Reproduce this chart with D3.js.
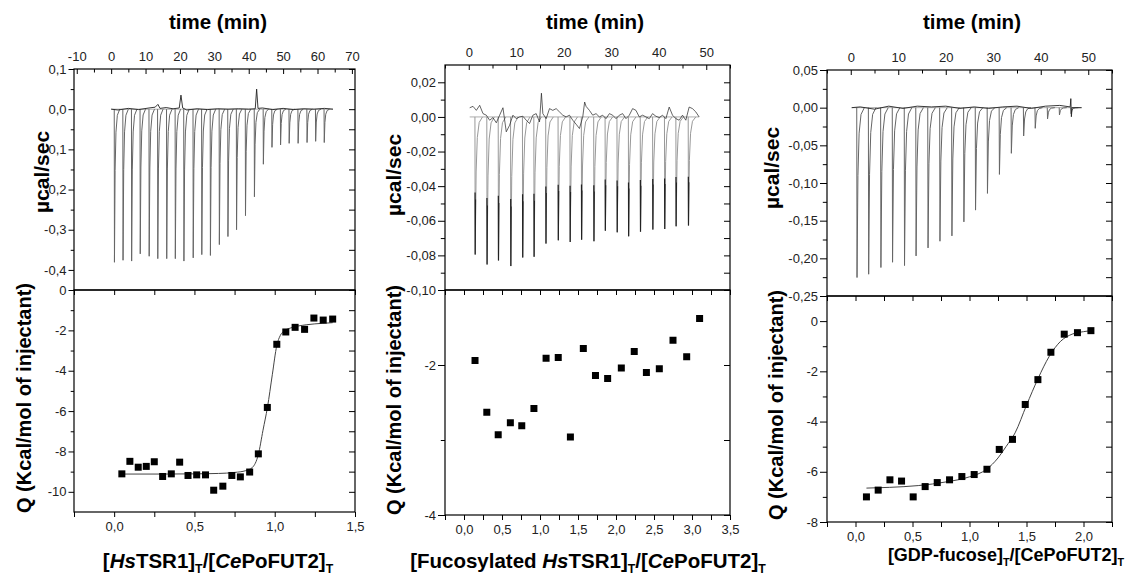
<!DOCTYPE html>
<html>
<head>
<meta charset="utf-8">
<script src="https://cdn.jsdelivr.net/npm/d3@7"></script>
<style>
  body { margin: 0; background: #fff; }
  svg text { font-family: "Liberation Sans", Arial, sans-serif; }
</style>
</head>
<body>
<div id="chart"></div>
<script>
/**
 * DATA
 * */
// panel A : HsTSR1 -> CePoFUT2
const injTimeA = [0.9, 3.4, 5.9, 8.4, 11.0, 13.5, 16.1, 18.6, 21.1, 23.8, 26.3, 28.8, 31.4, 33.9, 36.4, 39.0, 41.6, 44.2, 46.7, 49.2, 51.7, 54.3, 56.9, 59.4, 61.9];
const injPeakA = [-0.381, -0.376, -0.378, -0.360, -0.366, -0.372, -0.372, -0.372, -0.378, -0.370, -0.362, -0.364, -0.337, -0.317, -0.300, -0.265, -0.218, -0.137, -0.095, -0.089, -0.085, -0.085, -0.083, -0.080, -0.083];
const baseA = [[0, 0], [2, -0.002], [5, 0.002], [8, -0.001], [11, 0.003], [12.8, 0.005], [13.6, 0.012], [14.2, 0.002], [16, 0.004], [18, 0.001], [19.8, 0.003], [20.3, 0.035], [20.8, 0.003], [22, -0.002], [25, 0.001], [28, -0.001], [31, 0.001], [34, 0], [37, 0.001], [40, 0], [41.9, 0.001], [42.3, 0.05], [42.7, 0.002], [44, 0.003], [47, -0.001], [50, 0.002], [53, -0.001], [56, 0.001], [59, 0], [62, 0.002], [64.5, 0]];
const ratioA = [0.048, 0.098, 0.15, 0.20, 0.25, 0.302, 0.356, 0.408, 0.46, 0.514, 0.569, 0.62, 0.677, 0.733, 0.786, 0.844, 0.898, 0.954, 1.013, 1.069, 1.127, 1.186, 1.244, 1.302, 1.361];
const heatA = [-9.11, -8.49, -8.78, -8.74, -8.51, -9.24, -9.11, -8.53, -9.19, -9.16, -9.16, -9.92, -9.72, -9.19, -9.26, -9.02, -8.12, -5.82, -2.69, -2.08, -1.85, -1.95, -1.39, -1.49, -1.44];
const fitRatioA = [0.048, 0.3, 0.5, 0.65, 0.75, 0.82, 0.86, 0.898, 0.927, 0.955, 0.985, 1.013, 1.035, 1.06, 1.1, 1.2, 1.3, 1.361];
const fitHeatA = [-9.12, -9.12, -9.11, -9.09, -9.04, -8.95, -8.8, -8.15, -6.95, -5.8, -4.2, -2.75, -2.25, -2.02, -1.88, -1.72, -1.65, -1.62];
const timeTicksA = [-10, 0, 10, 20, 30, 40, 50, 60, 70];
const timeMinorA = [-5, 5, 15, 25, 35, 45, 55, 65];
const powerTicksA = [0.1, 0, -0.1, -0.2, -0.3, -0.4];
const powerMinorA = [0.05, -0.05, -0.15, -0.25, -0.35];
const ratioTicksA = [0, 0.5, 1, 1.5];
const ratioMinorA = [-0.25, 0.25, 0.75, 1.25];
const heatTicksA = [0, -2, -4, -6, -8, -10];
const heatMinorA = [-1, -3, -5, -7, -9];

// panel B : fucosylated HsTSR1 -> CePoFUT2
const injTimeB = [1.3, 3.8, 6.2, 8.8, 11.3, 13.7, 16.2, 18.8, 21.3, 23.7, 26.3, 28.7, 31.2, 33.6, 36.1, 38.7, 41.2, 43.6, 46.2];
const injPeakB = [-0.0795, -0.0852, -0.0829, -0.0862, -0.0812, -0.0808, -0.0732, -0.0713, -0.0722, -0.0709, -0.0718, -0.0657, -0.0667, -0.0690, -0.0663, -0.0651, -0.0647, -0.0632, -0.0628];
const baseB = [[0.2, 0.0053], [0.9, 0.0061], [1.6, 0.0038], [2.3, 0.0067], [3.0, 0.0019], [3.7, 0.0010], [4.4, -0.0019], [5.1, -0.0004], [5.8, -0.0034], [6.5, 0.0010], [7.2, 0.0053], [7.9, -0.0086], [8.6, -0.0048], [9.3, 0.0010], [10.0, -0.0010], [10.7, 0], [11.4, 0.0004], [12.1, -0.0019], [12.8, -0.0038], [13.5, 0.0010], [14.2, 0.0019], [14.9, -0.0029], [15.3, 0.0137], [15.6, 0.0019], [16.3, -0.0010], [17.0, 0.0048], [17.7, 0.0038], [18.4, 0.0048], [19.1, 0.0029], [19.8, 0.0010], [20.5, 0], [21.2, 0.0010], [21.9, -0.0019], [22.6, -0.0042], [23.3, -0.0067], [24.0, 0], [24.4, 0.0086], [24.7, 0.0061], [25.4, 0.0038], [26.1, 0.0010], [26.8, 0.0019], [27.5, 0], [28.2, 0.0010], [28.9, -0.0010], [29.6, 0.0019], [30.3, 0.0010], [31.0, -0.0010], [31.7, 0.0010], [32.4, 0.0019], [33.1, -0.0010], [33.8, 0.0010], [34.5, 0.0048], [35.2, 0.0038], [35.9, 0], [36.6, 0.0010], [37.3, 0], [38.0, -0.0010], [38.7, 0.0019], [39.4, 0.0004], [40.1, -0.0004], [40.8, 0.0010], [41.5, -0.0010], [42.2, 0.0057], [42.9, 0.0010], [43.6, -0.0010], [44.3, -0.0019], [45.0, 0.0010], [45.7, -0.0019], [46.4, 0.0057], [47.1, 0.0048], [47.8, 0.0029], [48.5, 0]];
const ratioB = [0.145, 0.30, 0.45, 0.61, 0.76, 0.92, 1.08, 1.24, 1.40, 1.57, 1.73, 1.89, 2.07, 2.24, 2.40, 2.57, 2.75, 2.93, 3.10];
const heatB = [-1.94, -2.63, -2.93, -2.77, -2.81, -2.58, -1.91, -1.90, -2.96, -1.78, -2.14, -2.18, -2.04, -1.82, -2.10, -2.05, -1.67, -1.89, -1.38];
const timeTicksB = [0, 10, 20, 30, 40, 50];
const timeMinorB = [-5, 5, 15, 25, 35, 45, 55];
const powerTicksB = [0.02, 0, -0.02, -0.04, -0.06, -0.08, -0.10];
const powerMinorB = [0.01, -0.01, -0.03, -0.05, -0.07, -0.09];
const ratioTicksB = [0, 0.5, 1, 1.5, 2, 2.5, 3, 3.5];
const ratioMinorB = [-0.25, 0.25, 0.75, 1.25, 1.75, 2.25, 2.75, 3.25];
const heatTicksB = [-2, -4];
const heatMinorB = [-1, -3];

// panel C : GDP-fucose -> CePoFUT2
const injTimeC = [1.26, 3.71, 6.29, 8.74, 11.26, 13.69, 16.21, 18.72, 21.24, 23.76, 26.21, 28.72, 31.24, 33.75, 36.34, 38.78, 41.37, 43.88, 46.33];
const injPeakC = [-0.2255, -0.2211, -0.2122, -0.2052, -0.2096, -0.1968, -0.1862, -0.1773, -0.1702, -0.1516, -0.1360, -0.1138, -0.0886, -0.0606, -0.0376, -0.0274, -0.0150, -0.0097, -0.0080];
const baseC = [[0.2, 0], [2, 0.001], [5, -0.002], [8, 0.002], [11, -0.001], [14, 0.002], [17, 0.001], [20, 0.002], [23, -0.001], [26, 0.001], [29, -0.001], [32, 0.001], [35, 0.002], [38, -0.001], [41, 0.002], [44, 0.003], [46.2, 0.001], [46.33, 0.012], [46.45, -0.012], [46.6, 0], [48.6, 0]];
const ratioC = [0.096, 0.199, 0.302, 0.404, 0.506, 0.611, 0.717, 0.825, 0.933, 1.041, 1.153, 1.261, 1.377, 1.489, 1.60, 1.714, 1.831, 1.947, 2.065];
const heatC = [-7.0, -6.73, -6.32, -6.37, -7.0, -6.59, -6.43, -6.32, -6.19, -6.11, -5.90, -5.11, -4.71, -3.32, -2.33, -1.24, -0.52, -0.46, -0.38];
const fitRatioC = [0.096, 0.3, 0.55, 0.8, 1.0, 1.15, 1.25, 1.32, 1.4, 1.5, 1.6, 1.7, 1.8, 1.9, 2.0, 2.065];
const fitHeatC = [-6.65, -6.62, -6.55, -6.4, -6.2, -5.9, -5.45, -5.0, -4.45, -3.35, -2.3, -1.4, -0.8, -0.52, -0.42, -0.38];
const timeTicksC = [0, 10, 20, 30, 40, 50];
const timeMinorC = [-5, 5, 15, 25, 35, 45, 55];
const powerTicksC = [0.05, 0, -0.05, -0.10, -0.15, -0.20, -0.25];
const powerMinorC = [0.025, -0.025, -0.075, -0.125, -0.175, -0.225];
const ratioTicksC = [0, 0.5, 1, 1.5, 2];
const ratioMinorC = [-0.25, 0.25, 0.75, 1.25, 1.75, 2.25];
const heatTicksC = [0, -2, -4, -6, -8];
const heatMinorC = [1, -1, -3, -5, -7];

/**
 * LAYOUT
 * */
const width = 1127, height = 579;
const loc = d3.formatLocale({ decimal: ",", thousands: ".", grouping: [3], currency: ["", ""], minus: "-" });

// shape of one injection peak, relative to injection time (min) / peak depth
const spikeShape = [[0, 0], [0.06, 1], [0.25, 0.4], [0.5, 0.15], [0.9, 0.04], [1.6, 0]];

const panels = [
  {
    x0: 74, x1: 355, y0: 69, ym: 290, y1: 512,
    timeDom: [-10.8, 70.9], powerDom: [-0.45, 0.1], ratioDom: [-0.25, 1.5], heatDom: [-11, 0],
    inj: injTimeA, peak: injPeakA, base: baseA, ratio: ratioA, heat: heatA, fitR: fitRatioA, fitH: fitHeatA,
    tT: timeTicksA, tM: timeMinorA, pT: powerTicksA, pM: powerMinorA, rT: ratioTicksA, rM: ratioMinorA, hT: heatTicksA, hM: heatMinorA,
    pFmt: ".1f", tick: 5.5,
    timeX: 218, powerLab: [42, 172], heatLab: [24, 398], xLabY: 568, xLabSize: 20.5,
    xLab: [["[", "n"], ["Hs", "i"], ["TSR1]", "n"], ["T", "s"], ["/[", "n"], ["Ce", "i"], ["PoFUT2]", "n"], ["T", "s"]], xLabX: 218,
    spikeColor: "#666", baseW: 0.9
  },
  {
    x0: 445, x1: 730, y0: 65, ym: 290, y1: 515,
    timeDom: [-5, 55], powerDom: [-0.10, 0.03], ratioDom: [-0.25, 3.5], heatDom: [-4, -1],
    inj: injTimeB, peak: injPeakB, base: baseB, ratio: ratioB, heat: heatB, fitR: null, fitH: null,
    tT: timeTicksB, tM: timeMinorB, pT: powerTicksB, pM: powerMinorB, rT: ratioTicksB, rM: ratioMinorB, hT: heatTicksB, hM: heatMinorB,
    pFmt: ".2f", tick: 7,
    timeX: 595, powerLab: [394, 175], heatLab: [394, 400], xLabY: 568, xLabSize: 20.5,
    xLab: [["[Fucosylated ", "n"], ["Hs", "i"], ["TSR1]", "n"], ["T", "s"], ["/[", "n"], ["Ce", "i"], ["PoFUT2]", "n"], ["T", "s"]], xLabX: 588,
    spikeColor: "#999", darkTip: true, baseW: 0.7
  },
  {
    x0: 827, x1: 1112, y0: 70, ym: 296, y1: 522,
    timeDom: [-5, 55], powerDom: [-0.25, 0.05], ratioDom: [-0.25, 2.25], heatDom: [-8, 1],
    inj: injTimeC, peak: injPeakC, base: baseC, ratio: ratioC, heat: heatC, fitR: fitRatioC, fitH: fitHeatC,
    tT: timeTicksC, tM: timeMinorC, pT: powerTicksC, pM: powerMinorC, rT: ratioTicksC, rM: ratioMinorC, hT: heatTicksC, hM: heatMinorC,
    pFmt: ".2f", tick: 7,
    timeX: 972, powerLab: [772, 168], heatLab: [776, 405], xLabY: 561, xLabSize: 18,
    xLab: [["[GDP-fucose]", "n"], ["T", "s"], ["/[", "n"], ["Ce", "n"], ["PoFUT2]", "n"], ["T", "s"]], xLabX: 1006,
    spikeColor: "#666", baseW: 0.9
  }
];

const svg = d3.select("#chart").append("svg")
  .attr("width", width)
  .attr("height", height);

panels.forEach(drawPanel);

function styleAxis(g) {
  g.select(".domain").remove();
  g.attr("font-family", "Liberation Sans, Arial, sans-serif").attr("font-size", 13).attr("color", "#000");
  g.selectAll("text").attr("fill", "#222");
}

function drawPanel(p) {
  const g = svg.append("g");

  const xt = d3.scaleLinear().domain(p.timeDom).range([p.x0, p.x1]);
  const yp = d3.scaleLinear().domain(p.powerDom).range([p.ym, p.y0]);
  const xr = d3.scaleLinear().domain(p.ratioDom).range([p.x0, p.x1]);
  const yh = d3.scaleLinear().domain(p.heatDom).range([p.y1, p.ym]);

  // ---- thermogram
  const tline = d3.line().x(d => xt(d[0])).y(d => yp(d[1]));
  const first = p.base[0][0], last = p.base[p.base.length - 1][0];
  g.append("line")
    .attr("x1", xt(first)).attr("x2", xt(last))
    .attr("y1", yp(0)).attr("y2", yp(0))
    .attr("stroke", "#999").attr("stroke-width", 0.8);

  p.inj.forEach((t, i) => {
    const pk = p.peak[i];
    g.append("path")
      .datum(spikeShape.map(s => [t + s[0], s[1] * pk]))
      .attr("d", tline)
      .attr("fill", "none")
      .attr("stroke", p.spikeColor)
      .attr("stroke-width", 1);
    if (p.darkTip) {
      g.append("path")
        .datum([[t + 0.03, pk * 0.55], [t + 0.06, pk], [t + 0.12, pk * 0.6]])
        .attr("d", tline)
        .attr("fill", "none")
        .attr("stroke", "#222")
        .attr("stroke-width", 1.2);
    }
  });

  g.append("path")
    .datum(p.base)
    .attr("d", tline)
    .attr("fill", "none")
    .attr("stroke", "#222")
    .attr("stroke-width", p.baseW);

  // ---- binding isotherm
  if (p.fitR) {
    g.append("path")
      .datum(p.fitR.map((r, i) => [r, p.fitH[i]]))
      .attr("d", d3.line().x(d => xr(d[0])).y(d => yh(d[1])).curve(d3.curveMonotoneX))
      .attr("fill", "none")
      .attr("stroke", "#444")
      .attr("stroke-width", 1);
  }

  g.selectAll(".pt")
    .data(p.ratio.map((r, i) => [r, p.heat[i]]))
    .join("rect")
    .attr("x", d => xr(d[0]) - 3.5)
    .attr("y", d => yh(d[1]) - 3.5)
    .attr("width", 7)
    .attr("height", 7)
    .attr("fill", "#000");

  // ---- frames
  g.append("rect")
    .attr("x", p.x0).attr("y", p.y0)
    .attr("width", p.x1 - p.x0).attr("height", p.ym - p.y0)
    .attr("fill", "none").attr("stroke", "#000").attr("stroke-width", 1.2);
  g.append("rect")
    .attr("x", p.x0).attr("y", p.ym)
    .attr("width", p.x1 - p.x0).attr("height", p.y1 - p.ym)
    .attr("fill", "none").attr("stroke", "#000").attr("stroke-width", 1.2);

  // ---- axes
  const pf = loc.format(p.pFmt), df = loc.format("d"), rf = loc.format(".1f");

  // time axis on top (ticks pointing in)
  g.append("g").attr("transform", `translate(0,${p.y0})`)
    .call(d3.axisTop(xt).tickValues(p.tT).tickFormat(df).tickSize(-5).tickSizeOuter(0).tickPadding(8))
    .call(styleAxis);
  g.append("g").attr("transform", `translate(0,${p.y0})`)
    .call(d3.axisTop(xt).tickValues(p.tM).tickFormat("").tickSize(-3.5).tickSizeOuter(0))
    .call(styleAxis);

  // power axis left (out) and right (in)
  g.append("g").attr("transform", `translate(${p.x0},0)`)
    .call(d3.axisLeft(yp).tickValues(p.pT).tickFormat(pf).tickSize(p.tick).tickSizeOuter(0).tickPadding(2))
    .call(styleAxis);
  g.append("g").attr("transform", `translate(${p.x0},0)`)
    .call(d3.axisLeft(yp).tickValues(p.pM).tickFormat("").tickSize(p.tick * 0.6).tickSizeOuter(0))
    .call(styleAxis);
  g.append("g").attr("transform", `translate(${p.x1},0)`)
    .call(d3.axisLeft(yp).tickValues(p.pT.concat(p.pM)).tickFormat("").tickSize(6).tickSizeOuter(0))
    .call(styleAxis);

  // heat axis left (out) and right (in)
  g.append("g").attr("transform", `translate(${p.x0},0)`)
    .call(d3.axisLeft(yh).tickValues(p.hT).tickFormat(df).tickSize(p.tick).tickSizeOuter(0).tickPadding(2))
    .call(styleAxis);
  g.append("g").attr("transform", `translate(${p.x0},0)`)
    .call(d3.axisLeft(yh).tickValues(p.hM).tickFormat("").tickSize(p.tick * 0.6).tickSizeOuter(0))
    .call(styleAxis);
  g.append("g").attr("transform", `translate(${p.x1},0)`)
    .call(d3.axisLeft(yh).tickValues(p.hT.concat(p.hM)).tickFormat("").tickSize(6).tickSizeOuter(0))
    .call(styleAxis);

  // ratio axis bottom (out) and mirrored on the separator (in)
  g.append("g").attr("transform", `translate(0,${p.y1})`)
    .call(d3.axisBottom(xr).tickValues(p.rT).tickFormat(rf).tickSize(5).tickSizeOuter(0).tickPadding(5))
    .call(styleAxis);
  g.append("g").attr("transform", `translate(0,${p.y1})`)
    .call(d3.axisBottom(xr).tickValues(p.rM).tickFormat("").tickSize(5).tickSizeOuter(0))
    .call(styleAxis);
  g.append("g").attr("transform", `translate(0,${p.ym})`)
    .call(d3.axisBottom(xr).tickValues(p.rT.concat(p.rM)).tickFormat("").tickSize(5).tickSizeOuter(0))
    .call(styleAxis);

  // ---- titles
  g.append("text")
    .attr("x", p.timeX).attr("y", 29)
    .attr("text-anchor", "middle")
    .attr("font-size", 20.5).attr("font-weight", "bold")
    .text("time (min)");

  g.append("text")
    .attr("transform", `translate(${p.powerLab[0] + 7},${p.powerLab[1]}) rotate(-90)`)
    .attr("text-anchor", "middle")
    .attr("font-size", 21).attr("font-weight", "bold")
    .text("\u00b5cal/sec");

  g.append("text")
    .attr("transform", `translate(${p.heatLab[0] + 7},${p.heatLab[1]}) rotate(-90)`)
    .attr("text-anchor", "middle")
    .attr("font-size", 20).attr("font-weight", "bold")
    .text("Q (Kcal/mol of injectant)");

  const xl = g.append("text")
    .attr("x", p.xLabX).attr("y", p.xLabY)
    .attr("text-anchor", "middle")
    .attr("font-size", p.xLabSize).attr("font-weight", "bold");
  let shifted = false;
  p.xLab.forEach(([txt, kind]) => {
    const ts = xl.append("tspan").text(txt);
    if (kind === "i") ts.attr("font-style", "italic");
    if (kind === "s") {
      ts.attr("font-size", p.xLabSize * 0.6).attr("dy", 5);
      shifted = true;
    } else if (shifted) {
      ts.attr("dy", -5);
      shifted = false;
    }
  });
}
</script>
</body>
</html>
